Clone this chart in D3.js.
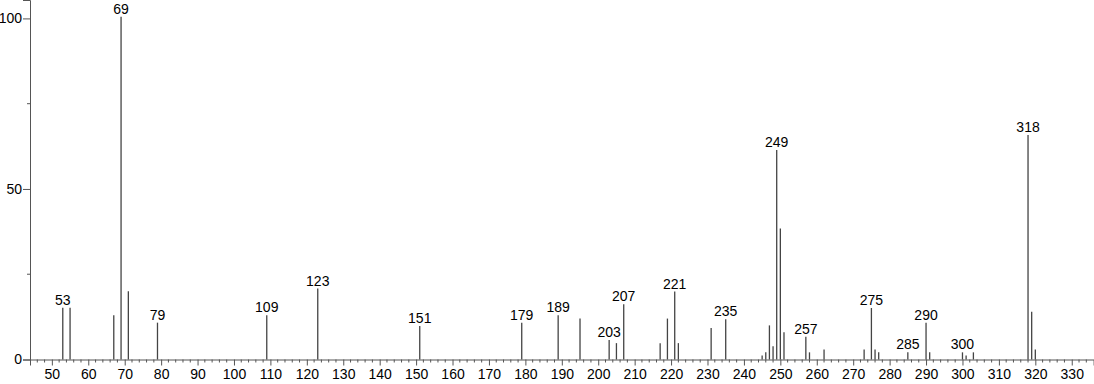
<!DOCTYPE html>
<html>
<head>
<meta charset="utf-8">
<script src="https://cdn.jsdelivr.net/npm/d3@7"></script>
<style>
body{margin:0;background:#fff}
text{font-family:"Liberation Sans",Arial,sans-serif;font-size:14px;fill:#000}
</style>
</head>
<body>
<div id="chart"></div>
<script>
// m/z values and relative intensities
const mz=[53,55,67,69,71,79,109,123,151,179,189,195,203,205,207,217,219,221,222,231,235,
245,246,247,248,249,250,251,257,258,262,273,275,276,277,285,290,291,300,301,303,318,319,320]
const intensity=[15.2,15.2,13.0,100.5,20.0,10.8,13.0,20.8,9.8,10.8,13.0,12.0,5.7,4.8,16.2,4.8,12.0,19.9,4.8,9.2,11.8,
1.2,2.1,10.0,3.9,61.4,38.4,8.0,6.7,2.1,2.9,2.9,15.1,2.9,2.1,2.1,10.8,2.1,2.1,1.2,2.1,65.8,14.0,2.9]
const labeled=[53,69,79,109,123,151,179,189,203,207,221,235,249,257,275,285,290,300,318]
const xTicks=d3.range(50,331,10)
const yTicks=[0,50,100]

const width=1094
const height=384

const svg=d3.select("#chart")
.append("svg")
.attr("width",width)
.attr("height",height)

const x=d3.scaleLinear().domain([44,336]).range([30,1093.6])
const y=d3.scaleLinear().domain([0,105.4]).range([359.5,0])

const peaks=mz.map((m,i)=>({mz:m,v:intensity[i]}))

// x axis: major ticks every 10, minor every 2
const xAxis=svg.append("g")
.attr("transform","translate(0,"+y(0)+")")
.call(d3.axisBottom(x).tickValues(xTicks).tickSize(6).tickPadding(4))
xAxis.select(".domain").attr("stroke","#555")
xAxis.selectAll(".tick line").attr("stroke","#555")

svg.append("g")
.selectAll("line")
.data(d3.range(46,335,2).filter(d=>d%10!==0))
.enter()
.append("line")
.attr("x1",d=>x(d)).attr("x2",d=>x(d))
.attr("y1",y(0)).attr("y2",y(0)+3)
.attr("stroke","#555")

// y axis
const yAxis=svg.append("g")
.attr("transform","translate(30,0)")
.call(d3.axisLeft(y).tickValues(yTicks).tickSize(7).tickPadding(1))
yAxis.select(".domain").attr("stroke","#555")
yAxis.selectAll(".tick line").attr("stroke","#555")

svg.append("g")
.selectAll("line")
.data([25,75])
.enter()
.append("line")
.attr("x1",27).attr("x2",30)
.attr("y1",d=>y(d)).attr("y2",d=>y(d))
.attr("stroke","#555")

svg.selectAll("g.tick text")
.style("font-family",'"Liberation Sans",Arial,sans-serif')
.style("font-size","14px")
.attr("fill","#000")

// peaks
svg.append("g")
.selectAll("line")
.data(peaks)
.enter()
.append("line")
.attr("x1",d=>x(d.mz)).attr("x2",d=>x(d.mz))
.attr("y1",y(0)).attr("y2",d=>y(d.v))
.attr("stroke","#444")
.attr("stroke-width",1.3)

svg.append("g")
.selectAll("text")
.data(peaks.filter(d=>labeled.includes(d.mz)))
.enter()
.append("text")
.attr("x",d=>x(d.mz))
.attr("y",d=>y(d.v)-3)
.attr("text-anchor","middle")
.text(d=>d.mz)
</script>
</body>
</html>
